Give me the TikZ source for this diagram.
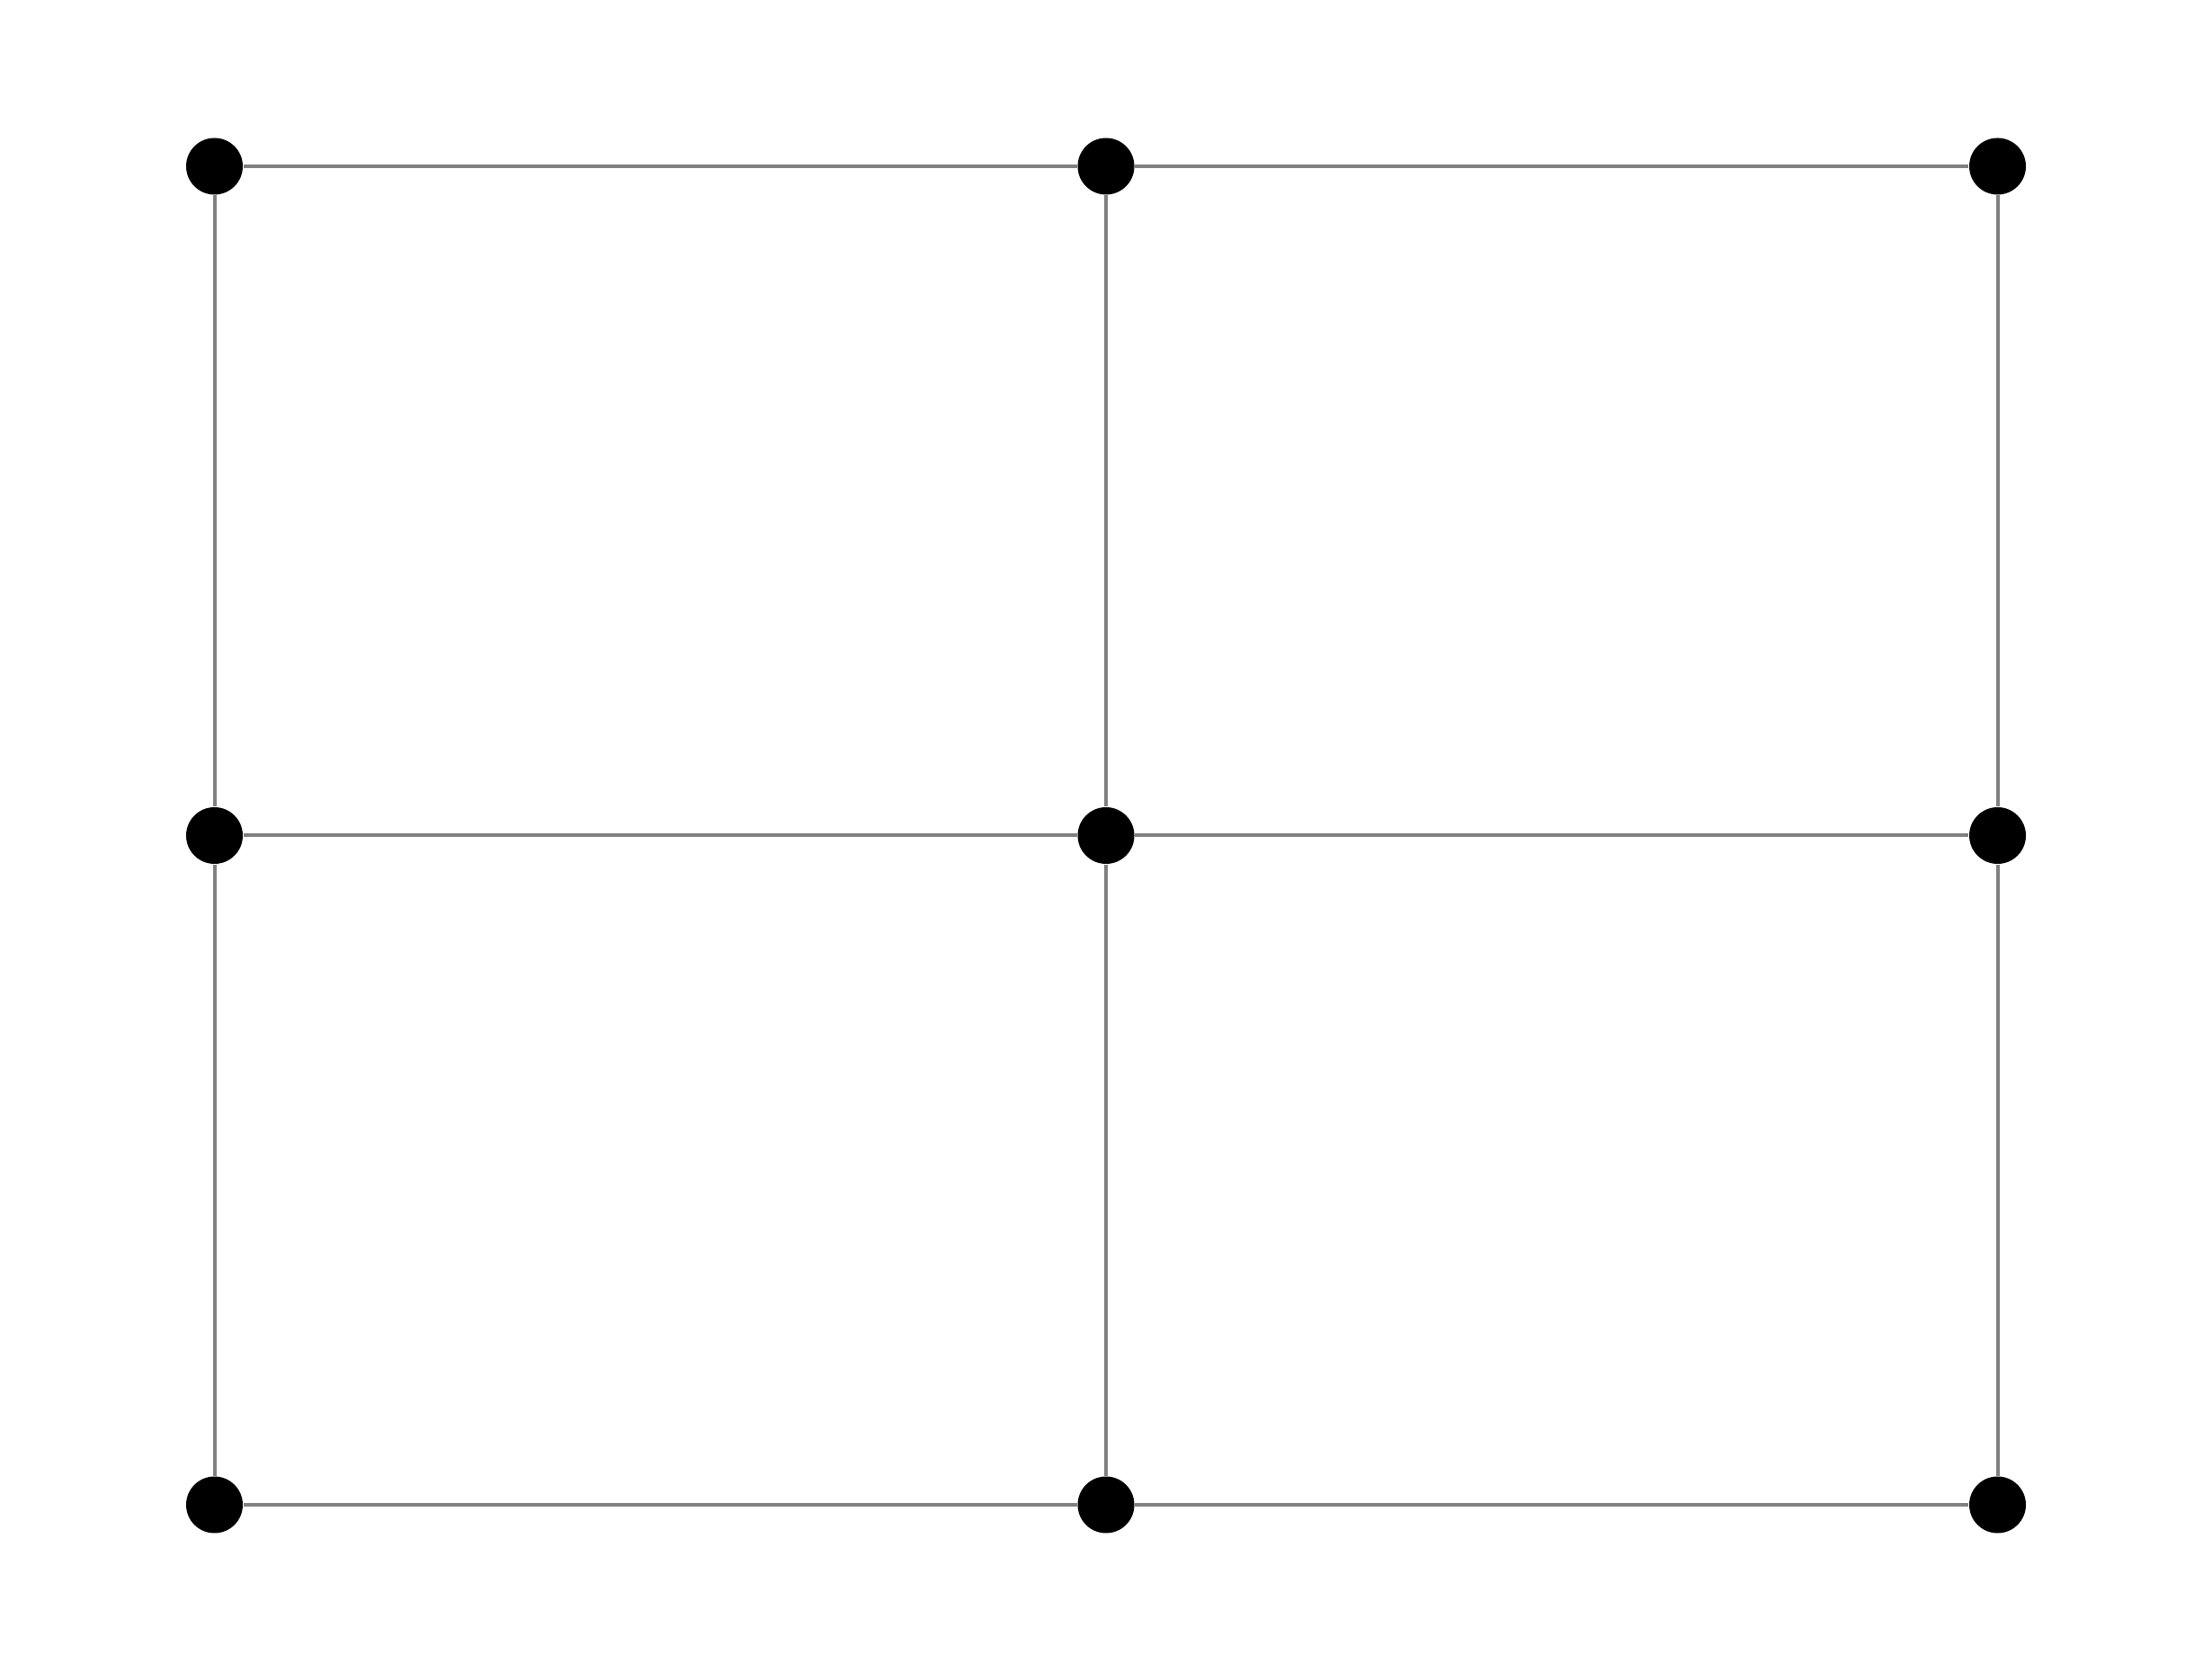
\documentclass[tikz,border=0pt]{standalone}
\usepackage{xcolor}
\usepackage{tikz}
\usetikzlibrary{positioning,calc}

\begin{document}
\begin{tikzpicture}[dot/.style={circle, fill=black, inner sep=0pt, minimum size=0.63cm},
                    edge/.style={draw=black!50, line width=0.04cm}]
  \useasboundingbox (0,0) rectangle (24.6,18.59);
  \def\dx{9.915}
  \def\dy{7.445}

  \node[dot] (a1) at (2.385,16.74) {};
  \node[dot] (b1) at (2.385+\dx,16.74) {};
  \node[dot] (c1) at (2.385+2*\dx,16.74) {};
  \node[dot] (a2) at (2.385,16.74-\dy) {};
  \node[dot] (b2) at (2.385+\dx,16.74-\dy) {};
  \node[dot] (c2) at (2.385+2*\dx,16.74-\dy) {};
  \node[dot] (a3) at (2.385,16.74-2*\dy) {};
  \node[dot] (b3) at (2.385+\dx,16.74-2*\dy) {};
  \node[dot] (c3) at (2.385+2*\dx,16.74-2*\dy) {};

  \draw[edge] (a1) -- (b1);
  \draw[edge] (b1) -- (c1);
  \draw[edge] (a2) -- (b2);
  \draw[edge] (b2) -- (c2);
  \draw[edge] (a3) -- (b3);
  \draw[edge] (b3) -- (c3);
  \draw[edge] (a1) -- (a2);
  \draw[edge] (a2) -- (a3);
  \draw[edge] (b1) -- (b2);
  \draw[edge] (b2) -- (b3);
  \draw[edge] (c1) -- (c2);
  \draw[edge] (c2) -- (c3);
\end{tikzpicture}
\end{document}
